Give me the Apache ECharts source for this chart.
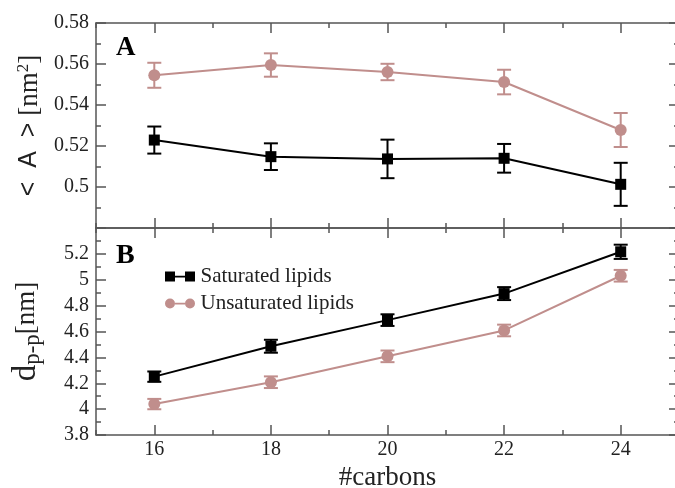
<!DOCTYPE html>
<html>
<head>
<meta charset="utf-8">
<script src="https://cdn.jsdelivr.net/npm/echarts@6/dist/echarts.min.js"></script>
<style>html,body{margin:0;padding:0;background:#fff}#c{width:675px;height:488px}</style>
</head>
<body>
<div id="c"></div>
<script>
const carbons = [16, 18, 20, 22, 24];
const minorCarbons = [15, 17, 19, 21, 23, 25];
const areaSat = [0.5229, 0.5148, 0.5137, 0.5140, 0.5013];
const areaSatErr = [0.0066, 0.0065, 0.0094, 0.0070, 0.0105];
const areaUnsat = [0.5545, 0.5595, 0.5561, 0.5512, 0.5278];
const areaUnsatErr = [0.0061, 0.0057, 0.0040, 0.0060, 0.0083];
const dSat = [4.251, 4.486, 4.688, 4.893, 5.216];
const dSatErr = [0.040, 0.050, 0.045, 0.050, 0.055];
const dUnsat = [4.039, 4.208, 4.408, 4.608, 5.031];
const dUnsatErr = [0.040, 0.045, 0.045, 0.045, 0.045];

const BLACK = '#000000';
const PINK = '#c08e8c';
const AX = '#555555';
const SERIF = '"Liberation Serif", "Times New Roman", serif';
const SANS = '"Liberation Sans", Arial, sans-serif';

const chart = echarts.init(document.getElementById('c'), null, {renderer: 'canvas'});

function xAx(grid, pos, major, labels) {
  const o = {
    type: 'value', gridIndex: grid, position: pos, min: 15, max: 25,
    axisLine: {show: major, onZero: false, lineStyle: {color: AX, width: 1.5}},
    axisTick: {show: true, inside: true, length: major ? 10 : 5, customValues: major ? carbons : minorCarbons,
               lineStyle: {color: AX, width: 1.5}},
    axisLabel: {show: labels, customValues: carbons, fontFamily: SERIF, fontSize: 20, color: '#222', margin: 5},
    splitLine: {show: false}
  };
  if (labels) {
    o.name = '#carbons';
    o.nameLocation = 'middle';
    o.nameGap = 29;
    o.nameTextStyle = {fontFamily: SERIF, fontSize: 27, color: '#222'};
  }
  return o;
}

function yAx(grid, pos, min, max, interval, labels, name, hideMin, hideMax) {
  const o = {
    type: 'value', gridIndex: grid, position: pos, min: min, max: max, interval: interval,
    axisLine: {show: true, onZero: false, lineStyle: {color: AX, width: 1.5}},
    axisTick: {show: true, inside: true, length: 10, lineStyle: {color: AX, width: 1.5}},
    minorTick: {show: true, splitNumber: 2, length: 5, lineStyle: {color: AX, width: 1.5}},
    axisLabel: {show: labels, fontFamily: SERIF, fontSize: 20, color: '#222', margin: 7,
                showMinLabel: !hideMin, showMaxLabel: !hideMax},
    splitLine: {show: false}
  };
  if (name) Object.assign(o, name);
  return o;
}

function errData(v, e) {
  return carbons.map((c, i) => [c, v[i] - e[i], v[i] + e[i]]);
}

function errSeries(name, xi, yi, v, e, color) {
  return {
    type: 'custom', name: name + ' err', xAxisIndex: xi, yAxisIndex: yi, z: 1,
    data: errData(v, e),
    renderItem: function (params, api) {
      const x = api.value(0);
      const p1 = api.coord([x, api.value(1)]);
      const p2 = api.coord([x, api.value(2)]);
      const w = 7;
      const st = {stroke: color, lineWidth: 2};
      return {type: 'group', children: [
        {type: 'line', shape: {x1: p1[0], y1: p1[1], x2: p2[0], y2: p2[1]}, style: st},
        {type: 'line', shape: {x1: p1[0] - w, y1: p1[1], x2: p1[0] + w, y2: p1[1]}, style: st},
        {type: 'line', shape: {x1: p2[0] - w, y1: p2[1], x2: p2[0] + w, y2: p2[1]}, style: st}
      ]};
    }
  };
}

function lineSeries(name, xi, yi, v, color, sym, size) {
  return {
    type: 'line', name: name, xAxisIndex: xi, yAxisIndex: yi, z: 3,
    data: carbons.map((c, i) => [c, v[i]]),
    symbol: sym, symbolSize: size, showSymbol: true,
    lineStyle: {color: color, width: 2},
    itemStyle: {color: color, borderWidth: 0},
    emphasis: {disabled: true}
  };
}

const SQ_ICON = 'path://M0,0h10v10h-10z M10,4.2h10v1.7h-10z M20,0h10v10h-10z';
const CI_ICON = 'path://M0,5a5,5 0 1,0 10,0a5,5 0 1,0 -10,0z M10,4.2h10v1.7h-10z M20,5a5,5 0 1,0 10,0a5,5 0 1,0 -10,0z';

const option = {
  animation: false,
  backgroundColor: '#ffffff',
  title: [
    {text: 'A', left: 111, top: 30, textStyle: {fontFamily: SERIF, fontWeight: 'bold', fontSize: 27, color: '#000'}},
    {text: 'B', left: 111, top: 237, textStyle: {fontFamily: SERIF, fontWeight: 'bold', fontSize: 28, color: '#000'}}
  ],
  legend: {
    orient: 'vertical', left: 160, top: 261, itemGap: 6, itemWidth: 31, itemHeight: 10,
    textStyle: {fontFamily: SERIF, fontSize: 21, color: '#222'},
    data: [
      {name: 'Saturated lipids', icon: SQ_ICON, itemStyle: {color: BLACK}},
      {name: 'Unsaturated lipids', icon: CI_ICON, itemStyle: {color: PINK}}
    ],
    selectedMode: false
  },
  grid: [
    {left: 96, top: 23, width: 583, height: 205, outerBoundsMode: 'none'},
    {left: 96, top: 228, width: 583, height: 207, outerBoundsMode: 'none'}
  ],
  xAxis: [
    xAx(0, 'bottom', true, false), xAx(0, 'bottom', false, false),
    xAx(0, 'top', true, false), xAx(0, 'top', false, false),
    xAx(1, 'bottom', true, true), xAx(1, 'bottom', false, false),
    xAx(1, 'top', true, false), xAx(1, 'top', false, false)
  ],
  yAxis: [
    yAx(0, 'left', 0.48, 0.58, 0.02, true, {
      name: '{s|<  A  > }{t|[nm}{sup|2}{t|]}', nameLocation: 'middle', nameGap: 52,
      nameTextStyle: {color: '#222',
        rich: {
          s: {fontFamily: SANS, fontSize: 25, color: '#222'},
          t: {fontFamily: SERIF, fontSize: 27, color: '#222'},
          sup: {fontFamily: SERIF, fontSize: 17, color: '#222', verticalAlign: 'top', padding: [0, 0, 12, 0]}
        }}
    }, true, false),
    yAx(0, 'right', 0.48, 0.58, 0.02, false, null, false, false),
    yAx(1, 'left', 3.8, 5.4, 0.2, true, {
      name: '{d|d}{sub|p-p}{t|[nm]}', nameLocation: 'middle', nameGap: 52,
      nameTextStyle: {color: '#222',
        rich: {
          d: {fontFamily: SERIF, fontSize: 33, color: '#222'},
          sub: {fontFamily: SERIF, fontSize: 23, color: '#222', verticalAlign: 'bottom', padding: [12, 0, 0, 0]},
          t: {fontFamily: SERIF, fontSize: 27, color: '#222'}
        }}
    }, false, true),
    yAx(1, 'right', 3.8, 5.4, 0.2, false, null, false, false)
  ],
  series: [
    errSeries('Unsaturated lipids', 0, 0, areaUnsat, areaUnsatErr, PINK),
    errSeries('Saturated lipids', 0, 0, areaSat, areaSatErr, BLACK),
    lineSeries('Unsaturated lipids', 0, 0, areaUnsat, PINK, 'circle', 12),
    lineSeries('Saturated lipids', 0, 0, areaSat, BLACK, 'rect', 11),
    errSeries('Unsaturated lipids', 4, 2, dUnsat, dUnsatErr, PINK),
    errSeries('Saturated lipids', 4, 2, dSat, dSatErr, BLACK),
    lineSeries('Unsaturated lipids', 4, 2, dUnsat, PINK, 'circle', 12),
    lineSeries('Saturated lipids', 4, 2, dSat, BLACK, 'rect', 11)
  ]
};
chart.setOption(option);
</script>
</body>
</html>
